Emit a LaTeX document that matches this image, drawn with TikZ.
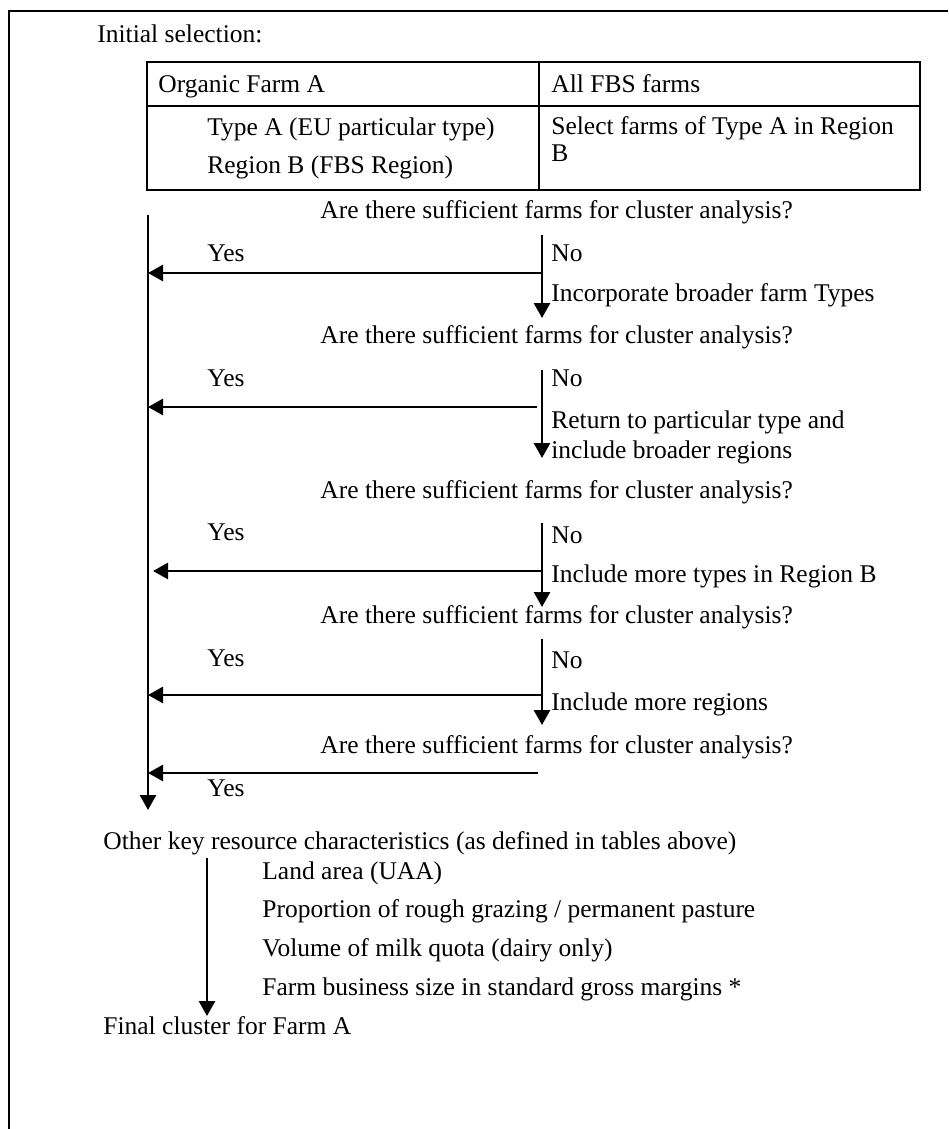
\documentclass[tikz,border=0pt]{standalone}
\usepackage{fontspec}
\setmainfont{Liberation Serif}
\usetikzlibrary{arrows.meta}
\begin{document}
\begin{tikzpicture}[x=0.5pt,y=-0.5pt,
  txt/.style={anchor=base west,inner sep=0pt,font=\fontsize{12.75pt}{15pt}\selectfont},
  rule/.style={line width=1pt},
  flow/.style={line width=1.4pt},
  arr/.style={flow,-{Triangle[length=7.5pt,width=8pt]}}]
\useasboundingbox (0,0) rectangle (948,1129);
% frame
\draw[rule] (9,1129) -- (9,11) -- (948,11);
% table
\coordinate (tNW) at (147,62);
\coordinate (tSE) at (920,190);
\draw[rule] (tNW) rectangle (tSE);
\draw[rule] (147,106) -- (920,106);
\draw[rule] (539,62) -- (539,190);
% texts
\node[txt] (init) at (97,43) {Initial selection:};
\node[txt] (org) at (158,93) {Organic Farm A};
\node[txt] (all) at (551,93) {All FBS farms};
\node[txt] (typeA) at (207,135) {Type A (EU particular type)};
\node[txt] (regB) at (207,173) {Region B (FBS Region)};
\node[txt] (sel1) at (551,134) {Select farms of Type A in Region};
\node[txt] (sel2) at (551,162) {B};
\node[txt] (q1) at (320,218) {Are there sufficient farms for cluster analysis?};
\node[txt] (q2) at (320,343) {Are there sufficient farms for cluster analysis?};
\node[txt] (q3) at (320,498) {Are there sufficient farms for cluster analysis?};
\node[txt] (q4) at (320,623) {Are there sufficient farms for cluster analysis?};
\node[txt] (q5) at (320,753) {Are there sufficient farms for cluster analysis?};
\node[txt] (y1) at (207,261) {Yes};
\node[txt] (y2) at (207,386) {Yes};
\node[txt] (y3) at (207,540) {Yes};
\node[txt] (y4) at (207,666) {Yes};
\node[txt] (y5) at (207,796) {Yes};
\node[txt] (n1) at (551,261) {No};
\node[txt] (n2) at (551,386) {No};
\node[txt] (n3) at (551,543) {No};
\node[txt] (n4) at (551,668) {No};
\node[txt] (a1) at (551,301) {Incorporate broader farm Types};
\node[txt] (a2a) at (551,428) {Return to particular type and};
\node[txt] (a2b) at (551,458) {include broader regions};
\node[txt] (a3) at (551,582) {Include more types in Region B};
\node[txt] (a4) at (551,710) {Include more regions};
\node[txt] (other) at (103,849) {Other key resource characteristics (as defined in tables above)};
\node[txt] (c1) at (262,879) {Land area (UAA)};
\node[txt] (c2) at (262,917) {Proportion of rough grazing / permanent pasture};
\node[txt] (c3) at (262,956) {Volume of milk quota (dairy only)};
\node[txt] (c4) at (262,995) {Farm business size in standard gross margins *};
\node[txt] (final) at (103,1034) {Final cluster for Farm A};
% main line
\coordinate (mtop) at (148,215);
\coordinate (mbot) at (148,810);
\draw[arr] (mtop) -- (mbot);
% block 1
\coordinate (v1t) at (542,235);
\coordinate (v1b) at (542,318);
\coordinate (h1) at (542,273);
\coordinate (m1) at (148,273);
\draw[arr] (v1t) -- (v1b);
\draw[arr] (h1) -- (m1);
% block 2
\coordinate (v2t) at (542,370);
\coordinate (v2b) at (542,458);
\coordinate (h2) at (537,407);
\coordinate (m2) at (148,407);
\draw[arr] (v2t) -- (v2b);
\draw[arr] (h2) -- (m2);
% block 3
\coordinate (v3t) at (542,523);
\coordinate (v3b) at (542,607);
\coordinate (h3) at (542,571);
\coordinate (m3) at (153,571);
\draw[arr] (v3t) -- (v3b);
\draw[arr] (h3) -- (m3);
% block 4
\coordinate (v4t) at (542,639);
\coordinate (v4b) at (542,725);
\coordinate (h4) at (542,695);
\coordinate (m4) at (148,695);
\draw[arr] (v4t) -- (v4b);
\draw[arr] (h4) -- (m4);
% last
\coordinate (h5) at (538,773);
\coordinate (m5) at (148,773);
\draw[arr] (h5) -- (m5);
% bottom arrow
\coordinate (btop) at (207,858);
\coordinate (bbot) at (207,1016);
\draw[arr] (btop) -- (bbot);
\end{tikzpicture}
\end{document}
